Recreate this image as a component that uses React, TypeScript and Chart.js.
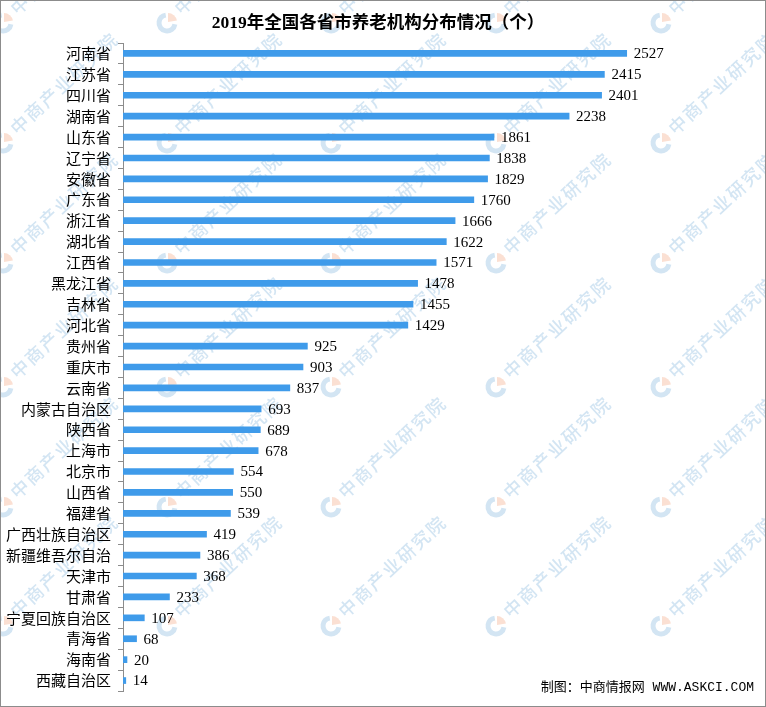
import React, { useEffect, useRef } from "react";
import { Chart, registerables } from "chart.js";

Chart.register(...registerables);

const categories = [
  "河南省", "江苏省", "四川省", "湖南省", "山东省", "辽宁省", "安徽省", "广东省",
  "浙江省", "湖北省", "江西省", "黑龙江省", "吉林省", "河北省", "贵州省", "重庆市",
  "云南省", "内蒙古自治区", "陕西省", "上海市", "北京市", "山西省", "福建省",
  "广西壮族自治区", "新疆维吾尔自治", "天津市", "甘肃省", "宁夏回族自治区", "青海省",
  "海南省", "西藏自治区",
];
const values = [
  2527, 2415, 2401, 2238, 1861, 1838, 1829, 1760, 1666, 1622, 1571, 1478, 1455, 1429,
  925, 903, 837, 693, 689, 678, 554, 550, 539, 419, 386, 368, 233, 107, 68, 20, 14,
];
const titleText = "2019年全国各省市养老机构分布情况（个）";
const sourceText = "制图：中商情报网 WWW.ASKCI.COM";
const watermarkText = "中商产业研究院";

const W = 766;
const H = 707;

function drawWatermarks(ctx: CanvasRenderingContext2D) {
  const xs = [3, 167, 331, 496, 661];
  const ys = [23, 143, 263, 387, 507, 626];
  ctx.save();
  for (const cx of xs) {
    for (const cy of ys) {
      // logo: pale orange wedge + light blue C ring
      ctx.fillStyle = "#fbe0d3";
      ctx.beginPath();
      ctx.moveTo(cx + 1, cy - 1);
      ctx.arc(cx + 1, cy - 1, 9, Math.PI * 1.5, Math.PI * 1.95);
      ctx.closePath();
      ctx.fill();
      ctx.lineWidth = 5;
      ctx.strokeStyle = "#d3e5f3";
      ctx.beginPath();
      ctx.arc(cx, cy, 8, Math.PI * 0.05, Math.PI * 1.45);
      ctx.stroke();
      // text
      ctx.save();
      ctx.translate(cx + 10, cy - 12);
      ctx.rotate(-Math.PI * 43 / 180);
      ctx.fillStyle = "#d3e5f3";
      ctx.font = '500 18px "Noto Sans CJK SC"';
      (ctx as any).letterSpacing = "2px";
      ctx.textAlign = "left";
      ctx.textBaseline = "middle";
      ctx.fillText(watermarkText, 0, 0);
      ctx.restore();
    }
  }
  ctx.restore();
}

export default function App() {
  const ref = useRef<HTMLCanvasElement | null>(null);

  useEffect(() => {
    document.body.style.margin = "0";
    const canvas = ref.current;
    if (!canvas) return;

    const decor = {
      id: "decor",
      beforeDraw(chart: any) {
        const ctx = chart.ctx;
        ctx.save();
        ctx.fillStyle = "#ffffff";
        ctx.fillRect(0, 0, W, H);
        ctx.restore();
        drawWatermarks(ctx);
      },
      afterDraw(chart: any) {
        const ctx = chart.ctx;
        ctx.save();
        // title
        ctx.fillStyle = "#000000";
        ctx.font = 'bold 17.5px "Liberation Serif", "Noto Sans CJK SC"';
        ctx.textAlign = "center";
        ctx.textBaseline = "middle";
        ctx.fillText(titleText, 378, 23);
        // source
        ctx.font = '13px "Liberation Mono", "Noto Sans CJK SC"';
        ctx.textAlign = "right";
        ctx.fillText(sourceText, 754, 688);
        // border
        ctx.strokeStyle = "#8c8c8c";
        ctx.lineWidth = 1;
        ctx.strokeRect(0.5, 0.5, W - 1, H - 1);
        ctx.restore();
      },
      afterDatasetsDraw(chart: any) {
        const ctx = chart.ctx;
        const meta = chart.getDatasetMeta(0);
        ctx.save();
        ctx.fillStyle = "#000000";
        ctx.font = '15px "Liberation Serif"';
        ctx.textAlign = "left";
        ctx.textBaseline = "middle";
        meta.data.forEach((bar: any, i: number) => {
          ctx.fillText(String(values[i]), bar.x + 7, bar.y + 1);
        });
        ctx.restore();
      },
    };

    const chart = new Chart(canvas, {
      type: "bar",
      data: {
        labels: categories,
        datasets: [
          {
            data: values,
            backgroundColor: "#3f9bea",
            barThickness: 6,
          },
        ],
      },
      options: {
        indexAxis: "y",
        animation: false,
        responsive: false,
        devicePixelRatio: 1,
        layout: { padding: { top: 43, bottom: 13, left: 0, right: 45 } },
        plugins: {
          legend: { display: false },
          tooltip: { enabled: false },
          title: { display: false },
        },
        scales: {
          x: {
            display: false,
            min: 0,
            max: 3000,
          },
          y: {
            afterFit(scale: any) {
              scale.width = 123;
            },
            grid: {
              drawOnChartArea: false,
              tickLength: 5,
              color: "#8c8c8c",
              offset: true,
            },
            border: { color: "#8c8c8c" },
            ticks: {
              color: "#000000",
              padding: 7,
              autoSkip: false,
              font: { family: '"Noto Sans CJK SC"', size: 15 },
            },
          },
        },
      },
      plugins: [decor],
    });

    return () => chart.destroy();
  }, []);

  return (
    <div style={{ position: "absolute", left: 0, top: 0, width: W, height: H }}>
      <canvas ref={ref} width={W} height={H} style={{ width: W, height: H, display: "block" }} />
    </div>
  );
}
